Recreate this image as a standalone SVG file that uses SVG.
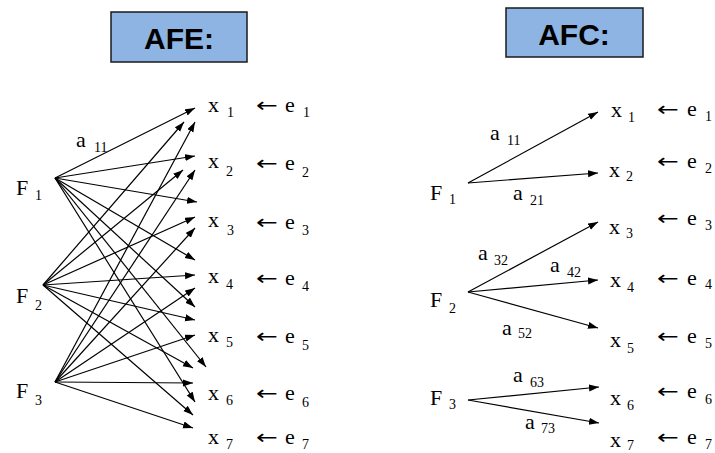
<svg xmlns="http://www.w3.org/2000/svg" width="715" height="453" viewBox="0 0 715 453">
<style>
.t{font-family:"Liberation Serif","Times New Roman",serif;font-size:22px;fill:#000}
.s{font-size:14px}
.ar{font-family:"DejaVu Sans","Liberation Serif",sans-serif;font-size:20px;fill:#000}
.title{font-family:"Liberation Sans",Arial,sans-serif;font-weight:bold;font-size:30px;fill:#000;text-anchor:middle}
.box{fill:#8EB4E3;stroke:#1a1a1a;stroke-width:1.5}
.c line{stroke:#000;stroke-width:1.2;marker-end:url(#ah)}
</style>
<defs>
<marker id="ah" markerUnits="userSpaceOnUse" markerWidth="11" markerHeight="8" refX="10" refY="3.5" orient="auto">
<path d="M0,0 L10,3.5 L0,7 z" fill="#000"/>
</marker>
</defs>
<rect width="715" height="453" fill="#fff"/>

<g id="title-afe"><rect class="box" x="111" y="12" width="136" height="50"/><text class="title" x="179" y="49">AFE:</text></g>
<g id="title-afc"><rect class="box" x="506" y="8" width="137" height="49"/><text class="title" x="574" y="45">AFC:</text></g>

<!-- AFE left diagram -->
<g id="afe-connectors" class="c">
<line x1="55" y1="178" x2="195" y2="108"/>
<line x1="55" y1="178" x2="195" y2="156"/>
<line x1="55" y1="178" x2="197" y2="202"/>
<line x1="55" y1="178" x2="195" y2="260"/>
<line x1="55" y1="178" x2="195" y2="307"/>
<line x1="55" y1="178" x2="206" y2="367"/>
<line x1="55" y1="178" x2="195" y2="402"/>
<line x1="43" y1="285" x2="184" y2="122"/>
<line x1="43" y1="285" x2="183" y2="170"/>
<line x1="43" y1="285" x2="195" y2="217"/>
<line x1="43" y1="285" x2="195" y2="275"/>
<line x1="43" y1="285" x2="195" y2="320"/>
<line x1="43" y1="285" x2="193" y2="368"/>
<line x1="43" y1="285" x2="193" y2="415"/>
<line x1="55" y1="382" x2="195" y2="122"/>
<line x1="55" y1="382" x2="195" y2="170"/>
<line x1="55" y1="382" x2="195" y2="228"/>
<line x1="55" y1="382" x2="195" y2="288"/>
<line x1="55" y1="382" x2="195" y2="335"/>
<line x1="55" y1="382" x2="193" y2="383"/>
<line x1="55" y1="382" x2="193" y2="428"/>
<text class="t" x="76" y="147">a<tspan class="s" x="94" y="152">11</tspan></text>
</g>

<g id="afe-F1"><text class="t" x="16" y="195">F<tspan class="s" x="35" y="200">1</tspan></text></g>
<g id="afe-F2"><text class="t" x="16" y="303">F<tspan class="s" x="35" y="310">2</tspan></text></g>
<g id="afe-F3"><text class="t" x="16" y="398">F<tspan class="s" x="35" y="405">3</tspan></text></g>

<g id="afe-x1"><text class="t" x="208" y="112">x<tspan class="s" x="227" y="117">1</tspan></text></g>
<g id="afe-x2"><text class="t" x="208" y="168">x<tspan class="s" x="226" y="176">2</tspan></text></g>
<g id="afe-x3"><text class="t" x="208" y="227">x<tspan class="s" x="227" y="235">3</tspan></text></g>
<g id="afe-x4"><text class="t" x="208" y="283">x<tspan class="s" x="226" y="289">4</tspan></text></g>
<g id="afe-x5"><text class="t" x="208" y="342">x<tspan class="s" x="226" y="347">5</tspan></text></g>
<g id="afe-x6"><text class="t" x="208" y="400">x<tspan class="s" x="226" y="405">6</tspan></text></g>
<g id="afe-x7"><text class="t" x="208" y="444">x<tspan class="s" x="226" y="449">7</tspan></text></g>

<g id="afe-e1"><text class="ar" transform="translate(256 112) scale(1.3 1)">←</text><text class="t" x="285" y="112">e<tspan class="s" x="303" y="117">1</tspan></text></g>
<g id="afe-e2"><text class="ar" transform="translate(256 170) scale(1.3 1)">←</text><text class="t" x="285" y="170">e<tspan class="s" x="302" y="177">2</tspan></text></g>
<g id="afe-e3"><text class="ar" transform="translate(256 229) scale(1.3 1)">←</text><text class="t" x="285" y="229">e<tspan class="s" x="302" y="235">3</tspan></text></g>
<g id="afe-e4"><text class="ar" transform="translate(256 285) scale(1.3 1)">←</text><text class="t" x="285" y="285">e<tspan class="s" x="302" y="291">4</tspan></text></g>
<g id="afe-e5"><text class="ar" transform="translate(256 343) scale(1.3 1)">←</text><text class="t" x="285" y="343">e<tspan class="s" x="302" y="350">5</tspan></text></g>
<g id="afe-e6"><text class="ar" transform="translate(256 400) scale(1.3 1)">←</text><text class="t" x="285" y="400">e<tspan class="s" x="302" y="407">6</tspan></text></g>
<g id="afe-e7"><text class="ar" transform="translate(256 444) scale(1.3 1)">←</text><text class="t" x="285" y="444">e<tspan class="s" x="302" y="449">7</tspan></text></g>

<!-- AFC right diagram -->
<g id="afc-connectors" class="c">
<line x1="468" y1="183" x2="598" y2="112"/>
<line x1="468" y1="183" x2="598" y2="173"/>
<line x1="468" y1="292" x2="598" y2="222"/>
<line x1="468" y1="292" x2="598" y2="280"/>
<line x1="468" y1="292" x2="598" y2="328"/>
<line x1="468" y1="400" x2="599" y2="387"/>
<line x1="468" y1="400" x2="599" y2="423"/>
<text class="t" x="490" y="140">a<tspan class="s" x="507" y="145">11</tspan></text>
<text class="t" x="513" y="200">a<tspan class="s" x="530" y="205">21</tspan></text>
<text class="t" x="478" y="260">a<tspan class="s" x="494" y="265">32</tspan></text>
<text class="t" x="550" y="272">a<tspan class="s" x="567" y="277">42</tspan></text>
<text class="t" x="502" y="335">a<tspan class="s" x="518" y="338">52</tspan></text>
<text class="t" x="513" y="382">a<tspan class="s" x="530" y="387">63</tspan></text>
<text class="t" x="525" y="429">a<tspan class="s" x="541" y="433">73</tspan></text>
</g>

<g id="afc-F1"><text class="t" x="430" y="200">F<tspan class="s" x="449" y="204">1</tspan></text></g>
<g id="afc-F2"><text class="t" x="430" y="307">F<tspan class="s" x="449" y="313">2</tspan></text></g>
<g id="afc-F3"><text class="t" x="430" y="405">F<tspan class="s" x="449" y="409">3</tspan></text></g>

<g id="afc-x1"><text class="t" x="611" y="117">x<tspan class="s" x="628" y="122">1</tspan></text></g>
<g id="afc-x2"><text class="t" x="609" y="177">x<tspan class="s" x="626" y="181">2</tspan></text></g>
<g id="afc-x3"><text class="t" x="609" y="234">x<tspan class="s" x="626" y="238">3</tspan></text></g>
<g id="afc-x4"><text class="t" x="610" y="287">x<tspan class="s" x="627" y="292">4</tspan></text></g>
<g id="afc-x5"><text class="t" x="610" y="347">x<tspan class="s" x="627" y="353">5</tspan></text></g>
<g id="afc-x6"><text class="t" x="610" y="405">x<tspan class="s" x="627" y="410">6</tspan></text></g>
<g id="afc-x7"><text class="t" x="610" y="447">x<tspan class="s" x="627" y="450">7</tspan></text></g>

<g id="afc-e1"><text class="ar" transform="translate(657 116) scale(1.3 1)">←</text><text class="t" x="687" y="116">e<tspan class="s" x="705" y="121">1</tspan></text></g>
<g id="afc-e2"><text class="ar" transform="translate(657 168) scale(1.3 1)">←</text><text class="t" x="687" y="168">e<tspan class="s" x="705" y="173">2</tspan></text></g>
<g id="afc-e3"><text class="ar" transform="translate(657 225) scale(1.3 1)">←</text><text class="t" x="687" y="225">e<tspan class="s" x="705" y="230">3</tspan></text></g>
<g id="afc-e4"><text class="ar" transform="translate(657 285) scale(1.3 1)">←</text><text class="t" x="687" y="285">e<tspan class="s" x="705" y="289">4</tspan></text></g>
<g id="afc-e5"><text class="ar" transform="translate(657 343) scale(1.3 1)">←</text><text class="t" x="687" y="343">e<tspan class="s" x="705" y="348">5</tspan></text></g>
<g id="afc-e6"><text class="ar" transform="translate(657 398) scale(1.3 1)">←</text><text class="t" x="687" y="398">e<tspan class="s" x="705" y="404">6</tspan></text></g>
<g id="afc-e7"><text class="ar" transform="translate(657 444) scale(1.3 1)">←</text><text class="t" x="687" y="444">e<tspan class="s" x="705" y="449">7</tspan></text></g>
</svg>
